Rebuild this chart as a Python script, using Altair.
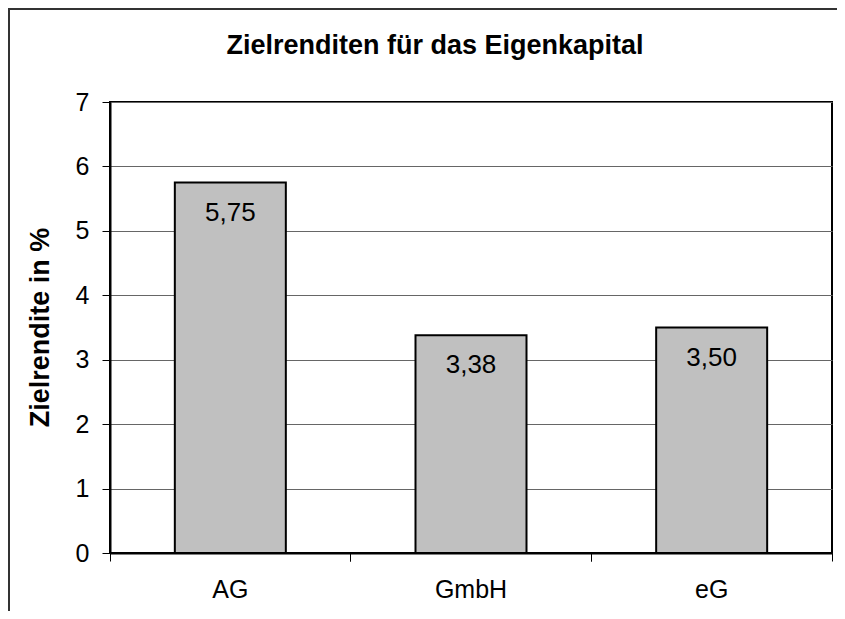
import altair as alt
import pandas as pd

categories = ["AG", "GmbH", "eG"]
values = [5.75, 3.38, 3.50]
labels = [f"{v:.2f}".replace(".", ",") for v in values]
y_ticks = [0, 1, 2, 3, 4, 5, 6, 7]
chart_title = "Zielrenditen für das Eigenkapital"
y_title = "Zielrendite in %"

df = pd.DataFrame({"Rechtsform": categories, "Rendite": values, "Label": labels})
one = pd.DataFrame({"t": [chart_title]})

FONT = "Liberation Sans"

x_main = alt.X("Rechtsform:N", sort=categories,
               scale=alt.Scale(paddingInner=0, paddingOuter=0),
               axis=alt.Axis(title=None, ticks=False, labelAngle=0, labelFont=FONT,
                             labelFontSize=25, labelColor="black", labelPadding=24,
                             domainColor="black", domainWidth=2, grid=False, orient="bottom"))

y_enc = alt.Y("Rendite:Q", scale=alt.Scale(domain=[0, 7], nice=False),
              axis=alt.Axis(values=y_ticks, format="d", title=y_title, titleFont=FONT,
                            titleFontSize=27, titleFontWeight="bold", titleColor="black",
                            titleX=-70, titleY=225, titleAngle=-90, titleAlign="center",
                            titleBaseline="middle",
                            labelFont=FONT, labelFontSize=25,
                            labelColor="black", labelPadding=13, tickSize=8,
                            tickColor="black", tickWidth=1, domainColor="black",
                            domainWidth=2, grid=True, gridColor="#666666", gridWidth=1))

bars = alt.Chart(df).mark_bar(size=111, color="#c0c0c0", stroke="black",
                              strokeWidth=2).encode(x=x_main, y=y_enc)

text = alt.Chart(df).mark_text(baseline="top", dy=17, font=FONT, fontSize=26,
                               color="black").encode(
    x=alt.X("Rechtsform:N", sort=categories,
            axis=alt.Axis(title=None, labels=False, ticks=True, tickSize=8,
                          tickColor="black", tickWidth=1, bandPosition=0,
                          domain=False, grid=False, orient="bottom")),
    y=alt.Y("Rendite:Q"),
    text="Label:N")

endtick = alt.Chart(df).mark_text(text="").encode(
    x=alt.X("Rechtsform:N", sort=categories,
            axis=alt.Axis(title=None, labels=False, ticks=True, tickSize=8,
                          tickColor="black", tickWidth=1, bandPosition=1,
                          domain=False, grid=False, orient="bottom")),
    y=alt.Y("Rendite:Q"))

title_mark = alt.Chart(one).mark_text(font=FONT, fontSize=27, fontWeight="bold",
                                      color="black", align="center",
                                      baseline="alphabetic").encode(
    x=alt.value(325), y=alt.value(-48), text="t:N")

frame_top = alt.Chart(one).mark_rule(color="#333333", strokeWidth=2).encode(
    x=alt.value(-102), x2=alt.value(730), y=alt.value(-93))
frame_left = alt.Chart(one).mark_rule(color="#333333", strokeWidth=2).encode(
    x=alt.value(-101), y=alt.value(-94), y2=alt.value(520))

chart = alt.layer(bars, text, endtick, title_mark, frame_top, frame_left).resolve_axis(
    x="independent"
).properties(
    width=722, height=451,
    padding={"left": 102, "top": 94, "right": 5, "bottom": 58},
    autosize="none",
).configure_view(stroke="black", strokeWidth=2)

chart.save("out.html", embed_options={"renderer": "svg", "actions": False})
